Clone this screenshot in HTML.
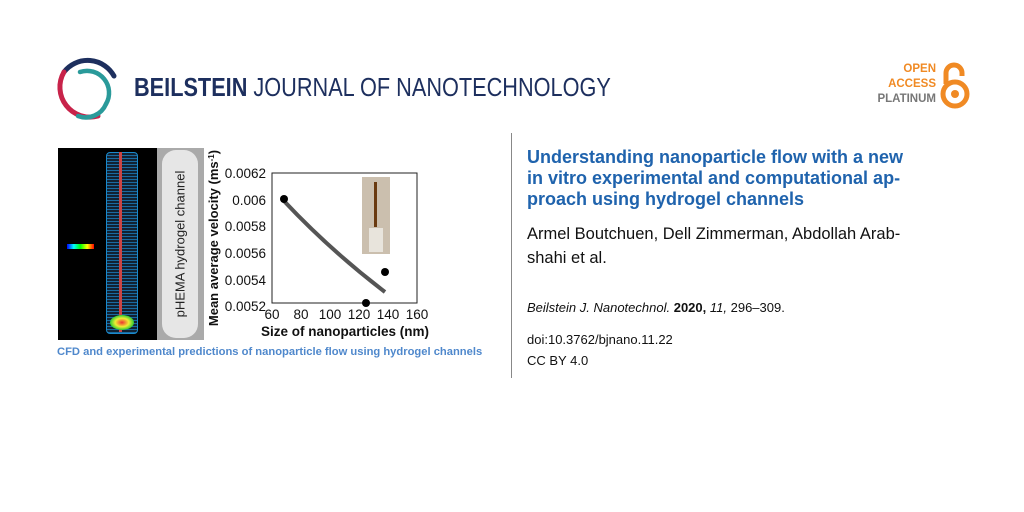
<!DOCTYPE html>
<html><head><meta charset="utf-8"><style>
body{margin:0;width:1024px;height:512px;background:#fff;position:relative;overflow:hidden;font-family:"Liberation Sans",sans-serif}
.a{position:absolute;white-space:nowrap}
</style></head><body>
<svg class="a" style="left:52px;top:52px" width="72" height="72" viewBox="0 0 72 72">
<path d="M62 24 A30 30 0 0 0 12 20" stroke="#1d2f5e" stroke-width="5" fill="none" stroke-linecap="round"/>
<path d="M12 20 A30 30 0 0 0 46 64" stroke="#c8234a" stroke-width="5" fill="none" stroke-linecap="round"/>
<path d="M28 20 A22 22 0 0 1 54 52" stroke="#2a9a9a" stroke-width="4.5" fill="none" stroke-linecap="round"/>
<path d="M54 52 A22 22 0 0 1 26 64" stroke="#2a9a9a" stroke-width="4.5" fill="none" stroke-linecap="round"/>
</svg>
<div class="a" style="left:134px;top:72px;font-size:26px;color:#1d2f5e;transform:scaleX(0.835);transform-origin:0 0"><b>BEILSTEIN</b> JOURNAL OF NANOTECHNOLOGY</div>
<div class="a" style="left:876px;top:62px;width:60px;text-align:right;font-size:11.5px;font-weight:bold;line-height:15px;color:#f08a24">OPEN<br>ACCESS<br><span style="color:#777">PLATINUM</span></div>
<svg class="a" style="left:938px;top:60px" width="34" height="50" viewBox="0 0 34 50">
<path d="M8 24 V13 A8 8 0 0 1 24 13 V16" stroke="#f08a24" stroke-width="5" fill="none"/>
<circle cx="17" cy="34" r="12" stroke="#f08a24" stroke-width="5" fill="none"/>
<circle cx="17" cy="34" r="4" fill="#f08a24"/>
</svg>
<div class="a" style="left:58px;top:148px;width:99px;height:192px;background:#000"></div>
<div class="a" style="left:106px;top:152px;width:30px;height:180px;border:1px solid #1a8acc;border-radius:4px;background:repeating-linear-gradient(#123 0 2px,#1a6aa0 2px 3px)"></div>
<div class="a" style="left:119px;top:152px;width:3px;height:180px;background:#c44"></div>
<div class="a" style="left:110px;top:315px;width:24px;height:15px;border-radius:50%;background:radial-gradient(#e33,#ee3 40%,#3c3 70%,#28c)"></div>
<div class="a" style="left:67px;top:244px;width:27px;height:5px;background:linear-gradient(90deg,blue,cyan,lime,yellow,red)"></div>
<div class="a" style="left:157px;top:148px;width:47px;height:192px;background:#aaa"></div>
<div class="a" style="left:162px;top:150px;width:36px;height:188px;background:#e6e6e6;border-radius:14px"></div>
<div class="a" style="left:180px;top:244px;transform:translate(-50%,-50%) rotate(-90deg);font-size:13px;color:#222">pHEMA hydrogel channel</div>
<svg class="a" style="left:200px;top:150px" width="230" height="200">
<rect x="72" y="23" width="145" height="130" fill="none" stroke="#222" stroke-width="1"/>
<g font-size="13.5" fill="#111" text-anchor="end" font-family="Liberation Sans">
<text x="66" y="28">0.0062</text><text x="66" y="55">0.006</text><text x="66" y="81">0.0058</text><text x="66" y="108">0.0056</text><text x="66" y="135">0.0054</text><text x="66" y="161">0.0052</text>
</g>
<g font-size="13.5" fill="#111" text-anchor="middle" font-family="Liberation Sans">
<text x="72" y="169">60</text><text x="101" y="169">80</text><text x="130" y="169">100</text><text x="159" y="169">120</text><text x="188" y="169">140</text><text x="217" y="169">160</text>
</g>
<text x="145" y="186" font-size="13.5" font-weight="bold" text-anchor="middle" fill="#111">Size of nanoparticles (nm)</text>
<text transform="translate(18 88) rotate(-90)" font-size="13" font-weight="bold" text-anchor="middle" fill="#111">Mean average velocity (ms<tspan dy="-4" font-size="8">-1</tspan><tspan dy="4">)</tspan></text>
<path d="M84 51 Q130 100 185 142" stroke="#555" stroke-width="4" fill="none"/>
<circle cx="84" cy="49" r="4" fill="#000"/><circle cx="166" cy="153" r="4" fill="#000"/><circle cx="185" cy="122" r="4" fill="#000"/>
<rect x="162" y="27" width="28" height="77" fill="#cbbfae"/>
<rect x="174" y="32" width="3" height="45" fill="#6a3a10"/>
<rect x="169" y="78" width="14" height="24" fill="#e8e4dc"/>
</svg>
<div class="a" style="left:57px;top:346px;font-size:11.2px;font-weight:bold;color:#4f88cc">CFD and experimental predictions of nanoparticle flow using hydrogel channels</div>
<div class="a" style="left:511px;top:133px;width:1px;height:245px;background:#888"></div>
<div class="a" style="left:527px;top:147px;font-size:18px;font-weight:bold;line-height:21px;color:#1f63ad">Understanding nanoparticle flow with a new<br>in vitro experimental and computational ap-<br>proach using hydrogel channels</div>
<div class="a" style="left:527px;top:222px;font-size:16.5px;line-height:24px;color:#111">Armel Boutchuen, Dell Zimmerman, Abdollah Arab-<br>shahi et al.</div>
<div class="a" style="left:527px;top:300px;font-size:13px;color:#111"><i>Beilstein J. Nanotechnol.</i> <b>2020,</b> <i>11,</i> 296–309.</div>
<div class="a" style="left:527px;top:329px;font-size:13px;line-height:21px;color:#111">doi:10.3762/bjnano.11.22<br>CC BY 4.0</div>
</body></html>
